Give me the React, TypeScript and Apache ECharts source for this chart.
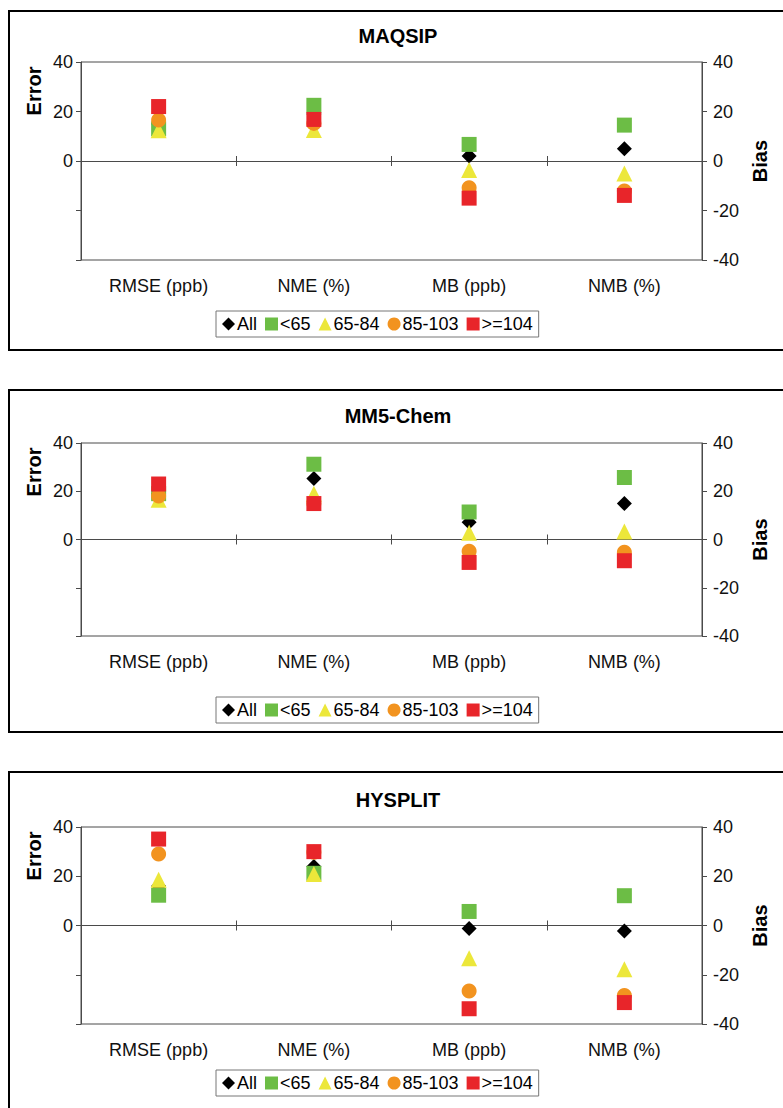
import React, { useEffect, useRef } from "react";
import * as echarts from "echarts";

const categories = ["RMSE (ppb)", "NME (%)", "MB (ppb)", "NMB (%)"];
const seriesNames = ["All", "<65", "65-84", "85-103", ">=104"];
const panelTitles = ["MAQSIP", "MM5-Chem", "HYSPLIT"];

// Panel 1: MAQSIP
const maqsipAll = [15, 19, 2, 5];
const maqsipLt65 = [13, 22.5, 6.7, 14.5];
const maqsip65to84 = [12.4, 12.5, -3.6, -5];
const maqsip85to103 = [16.6, 15.2, -10.8, -12.1];
const maqsipGe104 = [22, 16.8, -15, -13.9];

// Panel 2: MM5-Chem
const mm5All = [19, 25.3, 7.2, 14.9];
const mm5Lt65 = [19, 31.2, 11.4, 25.7];
const mm565to84 = [16.5, 19, 2.8, 3.3];
const mm585to103 = [18, 14.9, -4.9, -5.3];
const mm5Ge104 = [23, 14.9, -9.5, -8.8];

// Panel 3: HYSPLIT
const hysAll = [16, 24, -1.2, -2.2];
const hysLt65 = [12.3, 21.2, 5.7, 12.1];
const hys65to84 = [18.6, 20.9, -13.3, -17.8];
const hys85to103 = [29, 29.7, -26.6, -28.4];
const hysGe104 = [35.1, 30, -33.8, -31.3];

const panelData = [
  [maqsipAll, maqsipLt65, maqsip65to84, maqsip85to103, maqsipGe104],
  [mm5All, mm5Lt65, mm565to84, mm585to103, mm5Ge104],
  [hysAll, hysLt65, hys65to84, hys85to103, hysGe104],
];

const yTicks = { min: -40, max: 40, interval: 20 };

const FONT = "'Liberation Sans', Arial, sans-serif";
const symbols = ["diamond", "rect", "triangle", "circle", "rect"];
const symbolSizes = [15, 15, 16, 15, 15];
const colors = ["#000000", "#6cbd45", "#ece73a", "#f2931f", "#e8252a"];
const axisColor = "#4a4a4a";

// layout per panel (page pixels)
const panels = [
  { boxTop: 11, boxBottom: 350, gridTop: 62, gridHeight: 198, titleY: 36, legendTop: 311 },
  { boxTop: 390, boxBottom: 732, gridTop: 443, gridHeight: 193, titleY: 416, legendTop: 697 },
  { boxTop: 772, boxBottom: 1120, gridTop: 827, gridHeight: 197, titleY: 800, legendTop: 1070 },
];
const gridLeft = 81;
const gridRight = 702;

export default function App() {
  const ref = useRef<HTMLDivElement>(null);
  useEffect(() => {
    if (!ref.current) return;
    const chart = echarts.init(ref.current, undefined, { renderer: "svg" });

    const grid: any[] = [];
    const xAxis: any[] = [];
    const yAxis: any[] = [];
    const series: any[] = [];
    const legend: any[] = [];
    const graphic: any[] = [];

    panels.forEach((p, i) => {
      grid.push({
        left: gridLeft,
        width: gridRight - gridLeft,
        top: p.gridTop,
        height: p.gridHeight,
        show: true,
        borderColor: axisColor,
        borderWidth: 1,
        backgroundColor: "transparent",
      });
      yAxis.push({
        gridIndex: i,
        type: "value",
        position: "left",
        ...yTicks,
        axisLine: { show: true, lineStyle: { color: axisColor } },
        axisTick: { show: true, length: 5, lineStyle: { color: axisColor } },
        splitLine: { show: false },
        axisLabel: {
          margin: 8,
          fontSize: 18,
          fontFamily: FONT,
          color: "#111",
          formatter: (v: number) => (v >= 0 ? String(v) : ""),
        },
      });
      yAxis.push({
        gridIndex: i,
        type: "value",
        position: "right",
        ...yTicks,
        axisLine: { show: true, lineStyle: { color: axisColor } },
        axisTick: { show: true, length: 5, lineStyle: { color: axisColor } },
        splitLine: { show: false },
        axisLabel: { margin: 11, fontSize: 18, fontFamily: FONT, color: "#111" },
      });
      const base = 3 * i;
      xAxis.push({
        gridIndex: i,
        type: "category",
        data: categories,
        position: "bottom",
        axisLine: { show: true, onZero: true, onZeroAxisIndex: 2 * i, lineStyle: { color: axisColor } },
        axisTick: { show: true, length: 5, lineStyle: { color: axisColor } },
        axisLabel: { show: false },
        splitLine: { show: false },
      });
      xAxis.push({
        gridIndex: i,
        type: "category",
        data: categories,
        position: "bottom",
        axisLine: { show: true, onZero: true, onZeroAxisIndex: 2 * i, lineStyle: { color: axisColor } },
        axisTick: { show: true, inside: true, length: 5, lineStyle: { color: axisColor } },
        axisLabel: { show: false },
        splitLine: { show: false },
      });
      xAxis.push({
        gridIndex: i,
        type: "category",
        data: categories,
        position: "bottom",
        axisLine: { show: false, onZero: false },
        axisTick: { show: false },
        axisLabel: { show: true, interval: 0, margin: 17, fontSize: 18, fontFamily: FONT, color: "#111" },
        splitLine: { show: false },
      });

      panelData[i].forEach((vals, k) => {
        series.push({
          type: "scatter",
          name: seriesNames[k],
          xAxisIndex: base,
          yAxisIndex: 2 * i,
          symbol: symbols[k],
          symbolSize: symbolSizes[k],
          itemStyle: { color: colors[k], opacity: 1 },
          z: 2 + k,
          data: vals.map((v, j) => [categories[j], v]),
        });
      });

      legend.push({
        left: 216,
        top: p.legendTop,
        orient: "horizontal",
        itemWidth: 13,
        itemHeight: 13,
        itemGap: 8,
        padding: [4, 6, 4, 6],
        borderColor: "#777",
        borderWidth: 1,
        selectedMode: false,
        textStyle: { fontSize: 18, fontFamily: FONT, color: "#000", padding: [0, 0, 0, -3] },
        data: seriesNames.map((n, k) => ({ name: n, icon: symbols[k] })),
      });

      graphic.push({
        type: "rect",
        shape: { x: 9, y: p.boxTop, width: 800, height: p.boxBottom - p.boxTop },
        style: { fill: "none", stroke: "#000", lineWidth: 2 },
        silent: true,
      });
      graphic.push({
        type: "text",
        x: 398,
        y: p.titleY,
        style: {
          text: panelTitles[i],
          fontSize: 20,
          fontWeight: "bold",
          fontFamily: FONT,
          fill: "#000",
          textAlign: "center",
          textVerticalAlign: "middle",
        },
      });
      graphic.push({
        type: "text",
        x: 34,
        y: p.gridTop + 29,
        rotation: Math.PI / 2,
        style: {
          text: "Error",
          fontSize: 20,
          fontWeight: "bold",
          fontFamily: FONT,
          fill: "#000",
          textAlign: "center",
          textVerticalAlign: "middle",
        },
      });
      graphic.push({
        type: "text",
        x: 760,
        y: p.gridTop + p.gridHeight / 2,
        rotation: Math.PI / 2,
        style: {
          text: "Bias",
          fontSize: 20,
          fontWeight: "bold",
          fontFamily: FONT,
          fill: "#000",
          textAlign: "center",
          textVerticalAlign: "middle",
        },
      });
    });

    chart.setOption({
      animation: false,
      backgroundColor: "#ffffff",
      grid,
      xAxis,
      yAxis,
      series,
      legend,
      graphic,
    });
    return () => chart.dispose();
  }, []);

  return (
    <div style={{ position: "fixed", left: 0, top: 0, width: 783, height: 1108, overflow: "hidden", background: "#fff" }}>
      <div ref={ref} style={{ width: 783, height: 1108 }} />
    </div>
  );
}
